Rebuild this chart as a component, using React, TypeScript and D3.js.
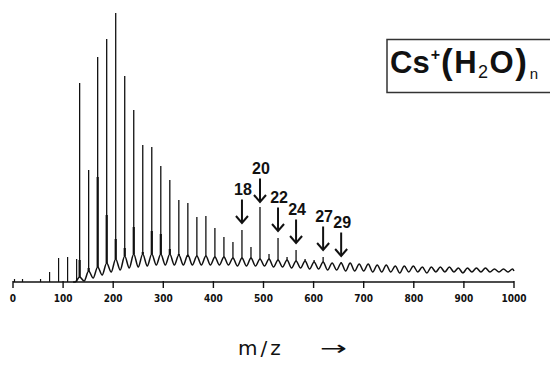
import React from "react";
import * as d3 from "d3";

const W = 550;
const H = 365;

// Cs+(H2O)n cluster sizes and the mass of each cluster
const clusterN = [
  0, 1, 2, 3, 4, 5, 6, 7, 8, 9, 10, 11, 12, 13, 14, 15, 16, 17, 18, 19, 20, 21, 22, 23, 24,
  25, 26, 27, 28, 29, 30, 31, 32, 33, 34, 35, 36, 37, 38, 39, 40, 41, 42, 43, 44, 45, 46, 47, 48,
];
const CS_MASS = 133;
const WATER_MASS = 18;

// sharp peak tops (arbitrary intensity units) for n = 0..29
const spikeTop = [
  199, 112, 225, 243, 269, 206, 172, 137, 135, 116, 102, 82, 79, 65, 66, 54, 45, 40, 52, 35,
  75, 28, 44, 25, 32, 23, 22, 25, 19, 20,
];
// broader shoulder under the sharp peaks, n = 0..12
const shoulderTop = [22, 14, 105, 67, 43, 34, 55, 30, 51, 48, 33, 28, 25];

// continuum: local maximum at each cluster mass, and minimum half a water mass below it
const humpTop = [
  5, 11, 15, 19, 23, 26, 28, 28, 28, 28, 28, 27, 27, 26, 26, 25, 25, 24, 24, 24, 23, 23, 22,
  22, 21, 21, 20, 20, 19, 19, 19, 18, 18, 17, 17, 16, 16, 16, 15, 15, 15, 15, 14, 14, 14, 14,
  13, 13, 13,
];
const valleyLevel = [
  0, 1, 4, 7, 10, 12, 14, 15, 16, 17, 17, 17, 17, 17, 17, 17, 17, 17, 16, 16, 16, 16, 15, 15,
  14, 14, 13, 13, 12, 12, 11, 11, 11, 10, 10, 10, 9, 10, 10, 9, 10, 10, 10, 9, 10, 10, 10, 10,
  10,
];
const endLevel = 11;

// low-mass H+(H2O)n peaks
const lowMass = [3, 19, 55, 73, 91, 109, 127];
const lowHeight = [3, 3, 3, 10, 24, 25, 23];

// annotated cluster sizes and arrow tip intensity
const arrowN = [18, 20, 22, 24, 27, 29];
const arrowTip = [59, 80, 51, 39, 32, 26];

const xTicks = [0, 100, 200, 300, 400, 500, 600, 700, 800, 900, 1000];

export default function App() {
  const x = d3.scaleLinear().domain([0, 1000]).range([13, 514]);
  const y = d3.scaleLinear().domain([0, 270]).range([282, 12]);
  const mass = (n: number) => CS_MASS + WATER_MASS * n;

  const contPts: [number, number][] = [[120, 0]];
  clusterN.forEach((n, i) => {
    contPts.push([mass(n) - WATER_MASS / 2, valleyLevel[i]]);
    contPts.push([mass(n), humpTop[i]]);
  });
  contPts.push([1000, endLevel]);

  const line = d3
    .line<[number, number]>()
    .x((d) => x(d[0]))
    .y((d) => y(d[1]))
    .curve(d3.curveMonotoneX);

  const font = "'Liberation Sans', Arial, sans-serif";

  return (
    <svg width={W} height={H} style={{ position: "absolute", left: 0, top: 0, background: "#fff" }}>
      <rect width={W} height={H} fill="#fff" />
      {/* axis */}
      <line x1={x(0)} x2={x(1000)} y1={y(0)} y2={y(0)} stroke="#111" strokeWidth={1.5} />
      {xTicks.map((t) => (
        <g key={t}>
          <line x1={x(t)} x2={x(t)} y1={y(0) - 1} y2={y(0) + 6} stroke="#111" strokeWidth={1.4} />
          <text
            x={x(t)}
            y={302}
            textAnchor="middle"
            fontFamily="'Liberation Sans Narrow', 'DejaVu Sans Condensed', sans-serif"
            fontWeight="bold"
            fontSize={10}
            fill="#111"
          >
            {t}
          </text>
        </g>
      ))}

      {/* continuum */}
      <path d={line(contPts) || ""} fill="none" stroke="#111" strokeWidth={1.5} />

      {/* low-mass peaks */}
      {lowMass.map((m, i) => (
        <line key={"l" + m} x1={x(m)} x2={x(m)} y1={y(0)} y2={y(lowHeight[i])} stroke="#111" strokeWidth={1.2} />
      ))}

      {/* shoulders */}
      {shoulderTop.map((v, i) => (
        <line
          key={"s" + i}
          x1={x(mass(clusterN[i]))}
          x2={x(mass(clusterN[i]))}
          y1={y(humpTop[i])}
          y2={y(v)}
          stroke="#111"
          strokeWidth={2.2}
        />
      ))}

      {/* sharp peaks */}
      {spikeTop.map((v, i) => (
        <line
          key={"p" + i}
          x1={x(mass(clusterN[i]))}
          x2={x(mass(clusterN[i]))}
          y1={y(humpTop[i])}
          y2={y(v)}
          stroke="#111"
          strokeWidth={1.3}
        />
      ))}

      {/* annotations */}
      {arrowN.map((n, i) => {
        const ax = x(mass(n));
        const tip = y(arrowTip[i]);
        const top = tip - 23.5;
        return (
          <g key={"a" + n}>
            <line x1={ax} x2={ax} y1={top} y2={tip} stroke="#111" strokeWidth={2} />
            <polyline
              points={`${ax - 6},${tip - 7} ${ax},${tip} ${ax + 6},${tip - 7}`}
              fill="none"
              stroke="#111"
              strokeWidth={2}
            />
            <text x={ax + 1} y={top - 5} textAnchor="middle" fontFamily={font} fontWeight="bold" fontSize={16} fill="#111">
              {n}
            </text>
          </g>
        );
      })}

      {/* formula box */}
      <rect x={387} y={39.5} width={170} height={53} fill="#fff" stroke="#333" strokeWidth={1.5} />
      <text x={390} y={73} fontFamily={font} fontWeight="bold" fontSize={31} fill="#111">
        <tspan>Cs</tspan>
        <tspan fontSize={16} dy={-13} dx={1}>+</tspan>
        <tspan fontSize={35} dy={14} dx={1}>(</tspan>
        <tspan dy={-1} dx={1.5}>H</tspan>
        <tspan fontSize={18} fontWeight="normal" dy={5} dx={1.5}>2</tspan>
        <tspan dy={-5} dx={1.5}>O</tspan>
        <tspan fontSize={35} dy={1} dx={1.5}>)</tspan>
        <tspan fontSize={15} fontWeight="normal" dy={5} dx={3}>n</tspan>
      </text>

      {/* x axis label */}
      <text x={238} y={355} fontFamily="'DejaVu Sans', sans-serif" fontSize={20} letterSpacing={3} fill="#111">
        m/z
      </text>
      <text
        x={320}
        y={355}
        fontFamily="'DejaVu Sans', sans-serif"
        fontSize={20}
        textLength={27}
        lengthAdjust="spacingAndGlyphs"
        fill="#111"
      >
        →
      </text>
    </svg>
  );
}
